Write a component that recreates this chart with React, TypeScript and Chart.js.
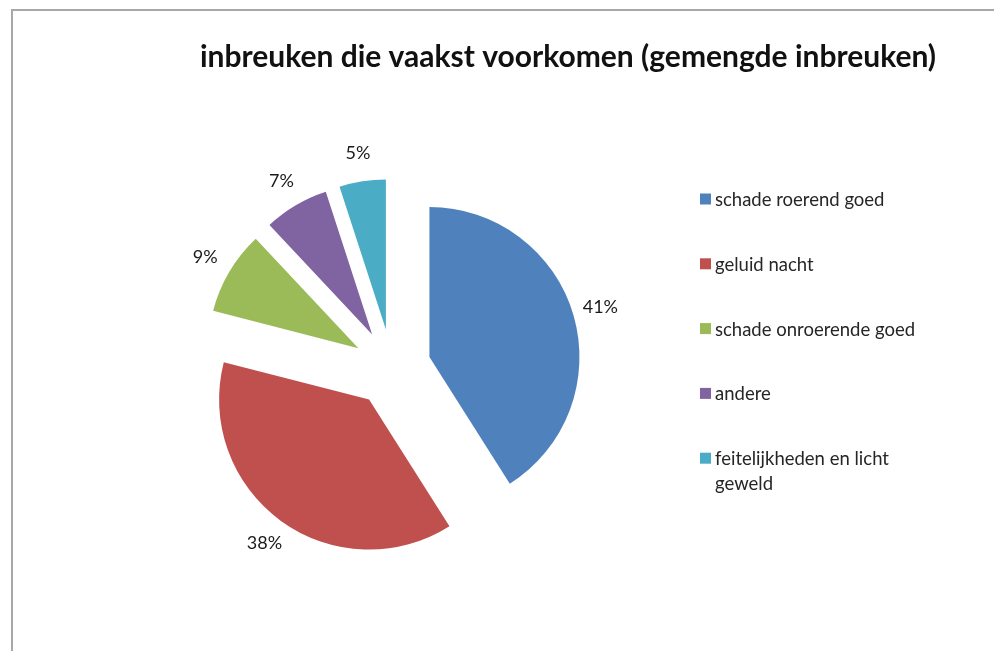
import React, { useEffect, useRef } from "react";
import { Chart, registerables } from "chart.js";

Chart.register(...registerables);

const TITLE = "inbreuken die vaakst voorkomen (gemengde inbreuken)";
const categories = [
  "schade roerend goed",
  "geluid nacht",
  "schade onroerende goed",
  "andere",
  "feitelijkheden en licht geweld",
];
const shares = [41, 38, 9, 7, 5];
const percentLabels = ["41%", "38%", "9%", "7%", "5%"];
const colors = ["#4f81bd", "#c0504d", "#9bbb59", "#8064a2", "#4bacc6"];

const EXPLODE = 39; // px each slice is pulled out of the centre
const PIE_RADIUS = 150;
const LABEL_GAP = 28;
const FONT = "Lato, 'Open Sans', sans-serif";

const framePlugin = {
  id: "frame",
  beforeDraw(chart: any) {
    const { ctx, width, height } = chart;
    ctx.save();
    ctx.fillStyle = "#ffffff";
    ctx.fillRect(0, 0, width, height);
    ctx.strokeStyle = "#a8a8a8";
    ctx.lineWidth = 2;
    ctx.beginPath();
    ctx.moveTo(12, height);
    ctx.lineTo(12, 10);
    ctx.lineTo(width, 10);
    ctx.stroke();
    ctx.restore();
  },
};

// draws each arc element of the library, pulled outward along its mid angle
const explodePlugin = {
  id: "explode",
  beforeDatasetsDraw(chart: any) {
    const { ctx } = chart;
    const meta = chart.getDatasetMeta(0);
    meta.data.forEach((el: any) => {
      const { startAngle, endAngle } = el.getProps(["startAngle", "endAngle"], true);
      const mid = (startAngle + endAngle) / 2;
      ctx.save();
      ctx.translate(Math.cos(mid) * EXPLODE, Math.sin(mid) * EXPLODE);
      el.draw(ctx, chart.chartArea);
      ctx.restore();
    });
    return false;
  },
};

const pctLabelPlugin = {
  id: "pctLabels",
  afterDraw(chart: any) {
    const { ctx } = chart;
    const meta = chart.getDatasetMeta(0);
    ctx.save();
    ctx.font = `18px ${FONT}`;
    ctx.fillStyle = "#1a1a1a";
    ctx.textAlign = "center";
    ctx.textBaseline = "middle";
    meta.data.forEach((el: any, i: number) => {
      const { x, y, startAngle, endAngle, outerRadius } = el.getProps(
        ["x", "y", "startAngle", "endAngle", "outerRadius"],
        true
      );
      const mid = (startAngle + endAngle) / 2;
      const d = EXPLODE + outerRadius + LABEL_GAP;
      ctx.fillText(percentLabels[i], x + Math.cos(mid) * d, y + Math.sin(mid) * d);
    });
    ctx.restore();
  },
};

const titlePlugin = {
  id: "customTitle",
  afterDraw(chart: any) {
    const { ctx } = chart;
    ctx.save();
    ctx.font = `bold 30px ${FONT}`;
    ctx.fillStyle = "#111111";
    ctx.textAlign = "center";
    ctx.textBaseline = "alphabetic";
    ctx.fillText(TITLE, 568, 67);
    ctx.restore();
  },
};

function wrap(ctx: CanvasRenderingContext2D, text: string, maxW: number): string[] {
  const words = text.split(" ");
  const lines: string[] = [];
  let cur = "";
  for (const w of words) {
    const test = cur ? cur + " " + w : w;
    if (ctx.measureText(test).width > maxW && cur) {
      lines.push(cur);
      cur = w;
    } else {
      cur = test;
    }
  }
  if (cur) lines.push(cur);
  return lines;
}

const legendPlugin = {
  id: "sideLegend",
  afterDraw(chart: any) {
    const { ctx } = chart;
    const labels = chart.data.labels as string[];
    const bg = chart.data.datasets[0].backgroundColor as string[];
    const left = 700;
    const top = 199;
    const rowStep = 64.8;
    const lineH = 25;
    ctx.save();
    ctx.font = `18.5px ${FONT}`;
    ctx.textAlign = "left";
    ctx.textBaseline = "alphabetic";
    labels.forEach((lab, i) => {
      const cy = top + i * rowStep;
      ctx.fillStyle = bg[i];
      ctx.fillRect(left, cy - 5.5, 11, 11);
      ctx.fillStyle = "#262626";
      const lines = wrap(ctx, lab, 212);
      lines.forEach((ln, j) => {
        ctx.fillText(ln, left + 15, cy + 7 + j * lineH);
      });
    });
    ctx.restore();
  },
};

export default function App() {
  const ref = useRef<HTMLCanvasElement | null>(null);

  useEffect(() => {
    if (!ref.current) return;
    const chart = new Chart(ref.current, {
      type: "pie",
      data: {
        labels: categories,
        datasets: [
          {
            data: shares,
            backgroundColor: colors,
            borderWidth: 0,
            radius: PIE_RADIUS,
          } as any,
        ],
      },
      options: {
        responsive: false,
        maintainAspectRatio: false,
        animation: false,
        devicePixelRatio: 1,
        layout: { padding: { left: 192, top: 168, right: 402, bottom: 83 } },
        plugins: {
          legend: { display: false },
          title: { display: false },
          tooltip: { enabled: false },
        },
        events: [],
      },
      plugins: [framePlugin, explodePlugin, pctLabelPlugin, titlePlugin, legendPlugin],
    });
    return () => chart.destroy();
  }, []);

  return (
    <div
      style={{
        position: "fixed",
        left: 0,
        top: 0,
        width: 994,
        height: 651,
        background: "#ffffff",
        overflow: "hidden",
      }}
    >
      <canvas ref={ref} width={994} height={651} style={{ display: "block" }} />
    </div>
  );
}
